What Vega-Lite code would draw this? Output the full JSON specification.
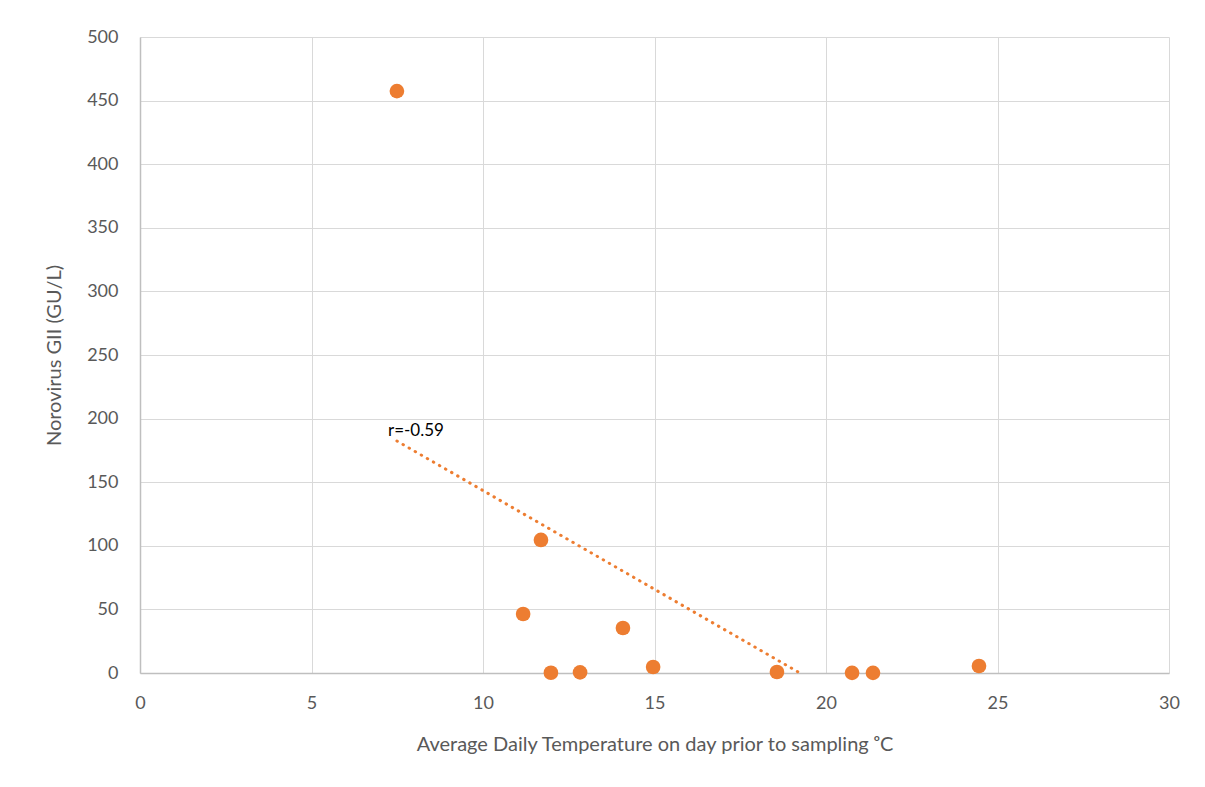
{
  "$schema": "https://vega.github.io/schema/vega-lite/v6.json",
  "width": 1029,
  "height": 636,
  "autosize": {"type": "none"},
  "padding": {"left": 140, "top": 37, "right": 36, "bottom": 114},
  "background": "white",
  "config": {
    "view": {"stroke": null},
    "font": "Lato",
    "axis": {
      "gridColor": "#d9d9d9",
      "gridWidth": 1,
      "domainColor": "#bfbfbf",
      "domainWidth": 1.5,
      "ticks": false,
      "labelFlush": false,
      "labelColor": "#595959",
      "labelFontSize": 18,
      "labelFont": "Lato",
      "titleColor": "#595959",
      "titleFont": "Lato",
      "titleFontSize": 20,
      "titleFontWeight": "normal"
    }
  },
  "datasets": {
    "points": [
      {"temp": 7.49, "noro": 457.5},
      {"temp": 11.69, "noro": 104.6},
      {"temp": 11.17, "noro": 46.4},
      {"temp": 14.08, "noro": 35.4},
      {"temp": 14.96, "noro": 4.7},
      {"temp": 11.98, "noro": 0.2},
      {"temp": 12.83, "noro": 0.5},
      {"temp": 18.57, "noro": 0.8},
      {"temp": 20.76, "noro": 0.1},
      {"temp": 21.37, "noro": 0.1},
      {"temp": 24.46, "noro": 5.5}
    ],
    "trend": [
      {"temp": 7.49, "noro": 182.4},
      {"temp": 19.24, "noro": 0}
    ],
    "label": [
      {"temp": 7.23, "noro": 190, "text": "r=-0.59"}
    ]
  },
  "layer": [
    {
      "data": {"name": "trend"},
      "mark": {"type": "line", "color": "#ED7D31", "strokeWidth": 3, "strokeCap": "round", "strokeDash": [0.5, 6.5]},
      "encoding": {
        "x": {
          "field": "temp", "type": "quantitative",
          "scale": {"domain": [0, 30], "nice": false},
          "axis": {"values": [0, 5, 10, 15, 20, 25, 30], "title": "Average Daily Temperature on day prior to sampling ᵒC", "labelPadding": 21, "titlePadding": 22, "grid": true}
        },
        "y": {
          "field": "noro", "type": "quantitative",
          "scale": {"domain": [0, 500], "nice": false},
          "axis": {"values": [0, 50, 100, 150, 200, 250, 300, 350, 400, 450, 500], "title": "Norovirus GII (GU/L)", "labelPadding": 22, "titlePadding": 22, "grid": true}
        }
      }
    },
    {
      "data": {"name": "points"},
      "mark": {"type": "point", "filled": true, "opacity": 1, "color": "#ED7D31", "size": 215, "shape": "circle"},
      "encoding": {
        "x": {"field": "temp", "type": "quantitative"},
        "y": {"field": "noro", "type": "quantitative"}
      }
    },
    {
      "data": {"name": "label"},
      "mark": {"type": "text", "align": "left", "baseline": "middle", "fontSize": 17, "color": "#000000", "font": "Lato"},
      "encoding": {
        "x": {"field": "temp", "type": "quantitative"},
        "y": {"field": "noro", "type": "quantitative"},
        "text": {"field": "text"}
      }
    }
  ]
}
